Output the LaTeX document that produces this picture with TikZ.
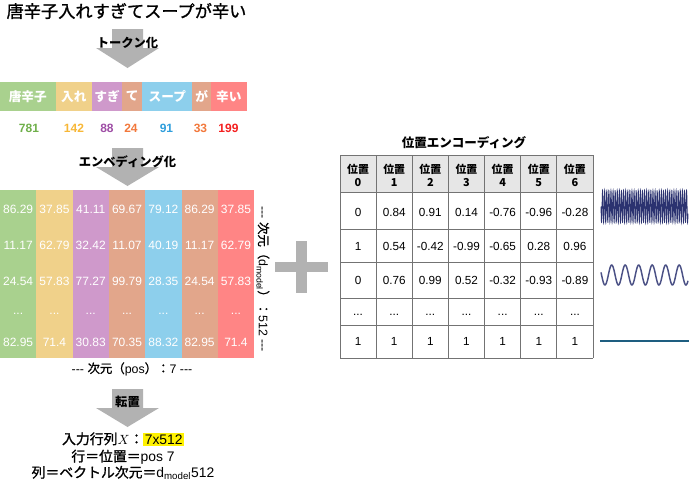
\documentclass[tikz,border=0pt]{standalone}
\usepackage{fontspec}
\setmainfont{Liberation Sans}
\newfontfamily\jp{Noto Sans CJK JP}
\newfontfamily\jpm[FakeBold=1.2]{Noto Sans CJK JP}

\definecolor{cgreen}{HTML}{A9D18E}
\definecolor{cyellow}{HTML}{F0D18A}
\definecolor{cpurple}{HTML}{CF99CB}
\definecolor{csalmon}{HTML}{E2A68B}
\definecolor{cblue}{HTML}{8DCFEC}
\definecolor{cred}{HTML}{FF8585}
\definecolor{ngreen}{HTML}{6FAF4A}
\definecolor{nyellow}{HTML}{F7B737}
\definecolor{npurple}{HTML}{9E4DA5}
\definecolor{norange}{HTML}{F2783B}
\definecolor{nblue}{HTML}{2F9EDC}
\definecolor{nred}{HTML}{F42020}
\definecolor{arrowgray}{HTML}{B2B2B2}
\definecolor{headgray}{HTML}{E6E6E6}
\definecolor{wavecol}{HTML}{2B3270}
\definecolor{flatcol}{HTML}{1E5E80}

\tikzset{every picture/.style={line width=0.75pt}}

\begin{document}
\begin{tikzpicture}[x=0.75pt,y=0.75pt,yscale=-1,xscale=1,
  blockarrow/.style={fill=arrowgray, draw=none},
  steplabel/.style={font=\jp\bfseries\fontsize{9.2}{11}\selectfont},
  toklabel/.style={text=white, font=\jp\bfseries\fontsize{9.5}{11}\selectfont},
  tokid/.style={font=\bfseries\fontsize{9}{11}\selectfont},
  embval/.style={text=white, font=\fontsize{9}{11}\selectfont},
  dimlabel/.style={font=\fontsize{9.3}{11}\selectfont},
  headcell/.style={font=\jp\bfseries\fontsize{8.2}{9.4}\selectfont, align=center},
  cellval/.style={font=\fontsize{8.8}{10}\selectfont},
  gridline/.style={draw=black!55, line width=0.75pt},
  resultline/.style={font=\fontsize{10.4}{12}\selectfont},
]
\useasboundingbox (0,0) rectangle (690,482);

% Title
\node[font=\jpm\fontsize{12.9}{15}\selectfont] (title) at (126.5,11) {唐辛子入れすぎてスープが辛い};

% Block Arrow 1
\draw[blockarrow] (112,29) -- (143,29) -- (143,48) -- (159,48) -- (127.5,68) -- (96,48) -- (112,48) -- cycle ;
\node[steplabel] (tokenize) at (127.5,43) {トークン化};

% Token row
\fill[cgreen]  (0,82) rectangle (55.7,111);
\fill[cyellow] (55.7,82) rectangle (92,111);
\fill[cpurple] (92,82) rectangle (122.3,111);
\fill[csalmon] (122.3,82) rectangle (142.3,111);
\fill[cblue]   (142.3,82) rectangle (192.3,111);
\fill[csalmon] (192.3,82) rectangle (211,111);
\fill[cred]    (211,82) rectangle (246.7,111);
\node[toklabel] (tok1) at (27.8,96.5) {唐辛子};
\node[toklabel] (tok2) at (73.8,96.5) {入れ};
\node[toklabel] (tok3) at (107.1,96.5) {すぎ};
\node[toklabel] (tok4) at (132.3,96.5) {て};
\node[toklabel] (tok5) at (167.3,96.5) {スープ};
\node[toklabel] (tok6) at (201.6,96.5) {が};
\node[toklabel] (tok7) at (228.8,96.5) {辛い};

% Token ids
\node[tokid, text=ngreen]  (id1) at (29,128) {781};
\node[tokid, text=nyellow] (id2) at (74,128) {142};
\node[tokid, text=npurple] (id3) at (107,128) {88};
\node[tokid, text=norange] (id4) at (131,128) {24};
\node[tokid, text=nblue]   (id5) at (166.5,128) {91};
\node[tokid, text=norange] (id6) at (200.5,128) {33};
\node[tokid, text=nred]    (id7) at (228.5,128) {199};

% Block Arrow 2
\draw[blockarrow] (112,148) -- (143,148) -- (143,167) -- (159,167) -- (127.5,186) -- (96,167) -- (112,167) -- cycle ;
\node[steplabel] (embed) at (127.5,162) {エンベディング化};

% Embedding columns
\fill[cgreen]  (0,190) rectangle (36.3,358);
\fill[cyellow] (36.3,190) rectangle (72.6,358);
\fill[cpurple] (72.6,190) rectangle (108.9,358);
\fill[csalmon] (108.9,190) rectangle (145.2,358);
\fill[cblue]   (145.2,190) rectangle (181.5,358);
\fill[csalmon] (181.5,190) rectangle (217.8,358);
\fill[cred]    (217.8,190) rectangle (254.1,358);
\foreach \v [count=\i] in {86.29,37.85,41.11,69.67,79.12,86.29,37.85}
  \node[embval] (ea\i) at ({36.3*\i-18.15},209) {\v};
\foreach \v [count=\i] in {11.17,62.79,32.42,11.07,40.19,11.17,62.79}
  \node[embval] (eb\i) at ({36.3*\i-18.15},245) {\v};
\foreach \v [count=\i] in {24.54,57.83,77.27,99.79,28.35,24.54,57.83}
  \node[embval] (ec\i) at ({36.3*\i-18.15},281) {\v};
\foreach \i in {1,...,7}
  \node[embval] (ed\i) at ({36.3*\i-18.15},314) {...};
\foreach \v [count=\i] in {82.95,71.4,30.83,70.35,88.32,82.95,71.4}
  \node[embval] (ee\i) at ({36.3*\i-18.15},342) {\v};

% Dimension labels
\node[dimlabel, rotate=-90] (dmodel) at (263,279) {-{}-{}- {\jpm 次元（}d\textsubscript{model}{\jpm ）：}512 -{}-{}-};
\node[dimlabel] (dpos) at (132,369) {-{}-{}- {\jpm 次元（}pos{\jpm ）：}7 -{}-{}-};

% Block Arrow 3
\draw[blockarrow] (112,389) -- (143,389) -- (143,408) -- (159,408) -- (127.5,427) -- (96,408) -- (112,408) -- cycle ;
\node[steplabel] (transpose) at (127.5,402) {転置};

% Result text
\node[resultline] (res1) at (123,439) {{\jpm 入力行列}$X${\jpm ：}{\setlength{\fboxsep}{1pt}\colorbox{yellow}{7x512}}};
\node[resultline] (res2) at (123,457) {{\jpm 行＝位置＝}pos 7};
\node[resultline] (res3) at (123,473) {{\jpm 列＝ベクトル次元＝}d\textsubscript{model}512};

% Plus
\fill[arrowgray] (275,262) rectangle (328,272);
\fill[arrowgray] (296,241) rectangle (307,293);

% Positional encoding table
\node[font=\jp\bfseries\fontsize{9.4}{11}\selectfont] (petitle) at (464,143) {位置エンコーディング};
\fill[headgray] (340,155) rectangle (593,192.5);
\foreach \y in {155,192.5,229.5,262.5,298,325,358}
  \draw[gridline] (340,\y) -- (593,\y);
\foreach \x in {340,376.14,412.29,448.43,484.57,520.71,556.86,593}
  \draw[gridline] (\x,155) -- (\x,358);
\foreach \i in {0,...,6}
  \node[headcell] (h\i) at ({358.07+36.14*\i},175.5) {位置\\\i};
\foreach \v [count=\i] in {0,0.84,0.91,0.14,-0.76,-0.96,-0.28}
  \node[cellval] (pa\i) at ({358.07+36.14*(\i-1)},212) {\v};
\foreach \v [count=\i] in {1,0.54,-0.42,-0.99,-0.65,0.28,0.96}
  \node[cellval] (pb\i) at ({358.07+36.14*(\i-1)},246) {\v};
\foreach \v [count=\i] in {0,0.76,0.99,0.52,-0.32,-0.93,-0.89}
  \node[cellval] (pc\i) at ({358.07+36.14*(\i-1)},280) {\v};
\foreach \i in {1,...,7}
  \node[cellval] (pd\i) at ({358.07+36.14*(\i-1)},315) {...};
\foreach \i in {1,...,7}
  \node[cellval] (pe\i) at ({358.07+36.14*(\i-1)},341) {1};

% Waves
\draw[wavecol, line width=0.6pt] plot[domain=601:688, samples=900] (\x,{206.5+16*sin((\x-601)/2.1*360)});
\draw[wavecol!85, line width=1.1pt] plot[domain=601:688, samples=300, smooth] (\x,{275-10*cos((\x-611.7)/13.5*360)});
\draw[flatcol, line width=1pt] (600,341) -- (689,341);

\end{tikzpicture}
\end{document}
